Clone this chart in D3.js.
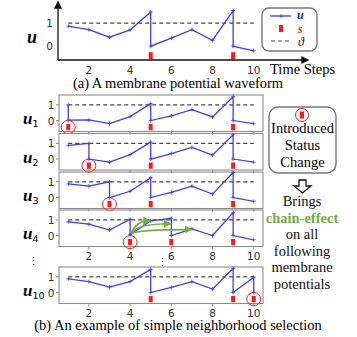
<!DOCTYPE html>
<html lang="en">
<head>
<meta charset="UTF-8">
<title>Membrane potential</title>
<style>
  body { margin: 0; background: #fff; }
  svg text { font-family: "Liberation Serif", serif; }
  .tick { font-family: "DejaVu Sans", sans-serif; font-size: 10.5px; fill: #333; }
</style>
</head>
<body>
<svg id="svg" width="357" height="337"></svg>
<script src="https://d3js.org/d3.v7.min.js"></script>
<script>
  // values: [time step, membrane potential]
  const waveA = [[1,0.87],[2,0.72],[3,0.39],[4,0.71],[5,1.49],[5,0],[6,0.35],[7,0.72],[8,0.25],[9,1.55],[9,0],[10,-0.2]]
  const spikesA = [5, 9]

  const wave1 = [[1,1.0],[1,0.03],[2,0.04],[3,-0.2],[4,0.25],[5,1.08],[5,0],[6,0.3],[7,0.7],[8,0.23],[9,1.52],[9,0],[10,-0.2]]
  const wave2 = [[1,0.87],[2,1.0],[2,0],[3,-0.2],[4,0.28],[5,1.08],[5,0],[6,0.35],[7,0.74],[8,0.25],[9,1.55],[9,0],[10,-0.2]]
  const wave3 = [[1,0.87],[2,0.73],[3,1.0],[3,0],[4,0.4],[5,1.27],[5,0],[6,0.33],[7,0.73],[8,0.22],[9,1.6],[9,0],[10,-0.24]]
  const wave4 = [[1,0.87],[2,0.73],[3,0.35],[4,1.04],[4,0.05],[5,0.94],[6,1.1],[6,0],[7,0.42],[8,0],[9,1.46],[9,0],[10,-0.27]]
  const wave10 = [[1,0.87],[2,0.7],[3,0.35],[4,0.7],[5,1.48],[5,0],[6,0.33],[7,0.7],[8,0.22],[9,1.54],[9,0],[10,0.98],[10,0]]

  const spikes1 = [1, 5, 9]
  const spikes2 = [2, 5, 9]
  const spikes3 = [3, 5, 9]
  const spikes4 = [4, 6, 9]
  const spikes10 = [5, 9, 10]

  const labels = ['1', '2', '3', '4', '10']
  const changed = [1, 2, 3, 4, 10]   // circled spike per panel
  const chainTargets = [[5,0.95],[6,0.75],[7,0.38]]  // green arrows in u4
  const xTicks = [2, 4, 6, 8, 10]
  const yTicks = [0, 1]
  const threshold = 1

  const blue = '#3c3cff', red = '#ff1a1a', green = '#72ad45'
  const svg = d3.select('#svg')

  svg.append('defs').append('marker')
    .attr('id', 'garrow').attr('viewBox', '0 0 10 10')
    .attr('refX', 8).attr('refY', 5)
    .attr('markerWidth', 5).attr('markerHeight', 5)
    .attr('orient', 'auto')
    .append('path').attr('d', 'M0,0 L10,5 L0,10 z').attr('fill', green)

  const x = d3.scaleLinear().domain([0.55, 10.45]).range([59, 263])

  function drawWave(g, data, y, spikes, bar) {
    const line = d3.line().x(d => x(d[0])).y(d => y(d[1]))
    // threshold
    g.append('line')
      .attr('x1', x(1)).attr('x2', x(10))
      .attr('y1', y(threshold)).attr('y2', y(threshold))
      .attr('stroke', '#444').attr('stroke-width', 1.2)
      .attr('stroke-dasharray', '4,3')
    g.append('path').datum(data)
      .attr('d', line).attr('fill', 'none')
      .attr('stroke', blue).attr('stroke-width', 1.3)
    // + markers
    g.selectAll('.mk').data(data).enter().append('path')
      .attr('d', d => `M${x(d[0]) - 2},${y(d[1])}h4M${x(d[0])},${y(d[1]) - 2}v4`)
      .attr('stroke', blue).attr('stroke-width', 0.8)
    g.selectAll('.sp').data(spikes).enter().append('rect')
      .attr('x', d => x(d) - 2).attr('width', 4)
      .attr('y', y(bar[1])).attr('height', y(bar[0]) - y(bar[1]))
      .attr('fill', red)
  }

  /* ---------------- (a) ---------------- */
  const yA = d3.scaleLinear().domain([-0.6, 1.9]).range([60, 2.5])
  const gA = svg.append('g')
  drawWave(gA, waveA, yA, spikesA, [-0.57, -0.26])

  gA.append('path').attr('d', `M58,60 V4 M58,2 l-3,6 h6 z`)
    .attr('stroke', '#111').attr('stroke-width', 1.3).attr('fill', '#111')
  gA.append('path').attr('d', `M58,60 H305 M308,60 l-6,-3 v6 z`)
    .attr('stroke', '#111').attr('stroke-width', 1.3).attr('fill', '#111')

  gA.selectAll('.xt').data(xTicks).enter().append('text')
    .attr('class', 'tick').attr('x', d => x(d)).attr('y', 74)
    .attr('text-anchor', 'middle').text(d => d)
  gA.selectAll('.yt').data(yTicks).enter().append('text')
    .attr('class', 'tick').attr('x', 53).attr('y', d => yA(d) + 4)
    .attr('text-anchor', 'end').text(d => d)
  gA.append('text').attr('x', 27).attr('y', 43)
    .attr('font-size', 18).attr('font-weight', 'bold').attr('font-style', 'italic').text('u')
  gA.append('text').attr('x', 270).attr('y', 74).attr('font-size', 14.5).text('Time Steps')
  gA.append('text').attr('x', 178).attr('y', 88).attr('text-anchor', 'middle')
    .attr('font-size', 14.5).text('(a) A membrane potential waveform')

  // legend
  const lg = svg.append('g')
  lg.append('rect').attr('x', 262).attr('y', 8).attr('width', 55).attr('height', 43)
    .attr('rx', 7).attr('fill', '#fff').attr('stroke', '#777').attr('stroke-width', 1.4)
  lg.append('line').attr('x1', 270).attr('x2', 291).attr('y1', 16).attr('y2', 16)
    .attr('stroke', blue).attr('stroke-width', 1.3)
  lg.append('path').attr('d', 'M279,16h4M281,14v4').attr('stroke', blue).attr('stroke-width', 0.8)
  lg.append('rect').attr('x', 279).attr('y', 25).attr('width', 4).attr('height', 7).attr('fill', red)
  lg.append('line').attr('x1', 271).attr('x2', 291).attr('y1', 41).attr('y2', 41)
    .attr('stroke', '#444').attr('stroke-width', 1.2).attr('stroke-dasharray', '4,3')
  lg.append('text').attr('x', 297).attr('y', 19).attr('font-size', 12).attr('font-weight', 'bold')
    .attr('font-style', 'italic').attr('fill', '#1a1aff').text('u')
  lg.append('text').attr('x', 298).attr('y', 33).attr('font-size', 12).attr('font-weight', 'bold')
    .attr('font-style', 'italic').attr('fill', red).text('s')
  lg.append('text').attr('x', 298).attr('y', 46).attr('font-size', 12)
    .attr('font-style', 'italic').attr('fill', '#111').text('ϑ')

  /* ---------------- (b) ---------------- */
  const waves = [wave1, wave2, wave3, wave4, wave10]
  const spikes = [spikes1, spikes2, spikes3, spikes4, spikes10]
  const tops = [95, 133.5, 172, 210, 267]
  const panelH = 36.5
  const bar = [-0.62, -0.22]

  waves.forEach((w, i) => {
    const top = tops[i]
    const y = d3.scaleLinear().domain([-0.7, 1.63]).range([top + panelH, top])
    const g = svg.append('g')
    g.append('rect').attr('x', 59).attr('y', top).attr('width', 204).attr('height', panelH)
      .attr('fill', 'none').attr('stroke', '#8c8c8c').attr('stroke-width', 1.1)
    g.selectAll('.xtk').data(xTicks).enter().append('line')
      .attr('x1', d => x(d)).attr('x2', d => x(d))
      .attr('y1', top + panelH).attr('y2', top + panelH + 3)
      .attr('stroke', '#8c8c8c')
    g.selectAll('.ytk').data(yTicks).enter().append('line')
      .attr('x1', 56).attr('x2', 59).attr('y1', d => y(d)).attr('y2', d => y(d))
      .attr('stroke', '#8c8c8c')
    g.selectAll('.yt').data(yTicks).enter().append('text')
      .attr('class', 'tick').attr('x', 54.5).attr('y', d => y(d) + 4)
      .attr('text-anchor', 'end').text(d => d)
    if (i >= 3) {
      g.selectAll('.xt').data(xTicks).enter().append('text')
        .attr('class', 'tick').attr('x', d => x(d)).attr('y', top + panelH + 13)
        .attr('text-anchor', 'middle').text(d => d)
    }
    drawWave(g, w, y, spikes[i], bar)

    // circled introduced change
    g.append('ellipse').attr('cx', x(changed[i])).attr('cy', (y(bar[0]) + y(bar[1])) / 2)
      .attr('rx', 7).attr('ry', 6.5).attr('fill', 'none')
      .attr('stroke', red).attr('stroke-width', 1)

    const lab = g.append('text').attr('x', 23).attr('y', top + 29)
    lab.append('tspan').attr('font-size', 17).attr('font-weight', 'bold')
      .attr('font-style', 'italic').text('u')
    lab.append('tspan').attr('dy', 3).attr('font-size', 9.5)
      .attr('font-family', 'DejaVu Sans, sans-serif').text(labels[i])

    if (i === 3) {
      const s = [x(4) + 1, y(0.12)]
      chainTargets.forEach(t => {
        const e = [x(t[0]) - 1, y(t[1])]
        g.append('path')
          .attr('d', `M${s[0]},${s[1]} Q${s[0] + 5},${e[1]} ${e[0]},${e[1]}`)
          .attr('fill', 'none').attr('stroke', green).attr('stroke-width', 1.6)
          .attr('marker-end', 'url(#garrow)')
      })
    }
  })

  // vertical ellipses
  svg.append('text').attr('x', 33).attr('y', 265).attr('font-size', 11)
    .attr('text-anchor', 'middle').text('⋮')
  svg.append('text').attr('x', 162).attr('y', 266).attr('font-size', 11)
    .attr('text-anchor', 'middle').text('⋮')

  svg.append('text').attr('x', 178).attr('y', 330).attr('text-anchor', 'middle')
    .attr('font-size', 14.5).text('(b) An example of simple neighborhood selection')

  // right-hand note
  const note = svg.append('g')
  note.append('rect').attr('x', 269).attr('y', 107).attr('width', 67).attr('height', 66)
    .attr('rx', 9).attr('fill', 'none').attr('stroke', '#777').attr('stroke-width', 1.4)
  note.append('circle').attr('cx', 302).attr('cy', 115).attr('r', 6.5)
    .attr('fill', 'none').attr('stroke', red).attr('stroke-width', 1)
  note.append('rect').attr('x', 300).attr('y', 111.5).attr('width', 4).attr('height', 7).attr('fill', red)
  const noteLines = ['Introduced', 'Status', 'Change']
  note.selectAll('.nl').data(noteLines).enter().append('text')
    .attr('x', 302.5).attr('y', (d, i) => 133 + i * 17)
    .attr('text-anchor', 'middle').attr('font-size', 14.5).text(d => d)

  note.append('path')
    .attr('d', 'M299,180 h7 v6 h5 l-8.5,7 l-8.5,-7 h5 z')
    .attr('fill', '#fff').attr('stroke', '#111').attr('stroke-width', 1.3)

  const effect = ['Brings', 'chain-effect', 'on all', 'following', 'membrane', 'potentials']
  note.selectAll('.ef').data(effect).enter().append('text')
    .attr('x', 302).attr('y', (d, i) => 206 + i * 16.5)
    .attr('text-anchor', 'middle').attr('font-size', 14.5)
    .attr('font-weight', d => d === 'chain-effect' ? 'bold' : null)
    .attr('fill', d => d === 'chain-effect' ? green : '#111')
    .text(d => d)
</script>
</body>
</html>
